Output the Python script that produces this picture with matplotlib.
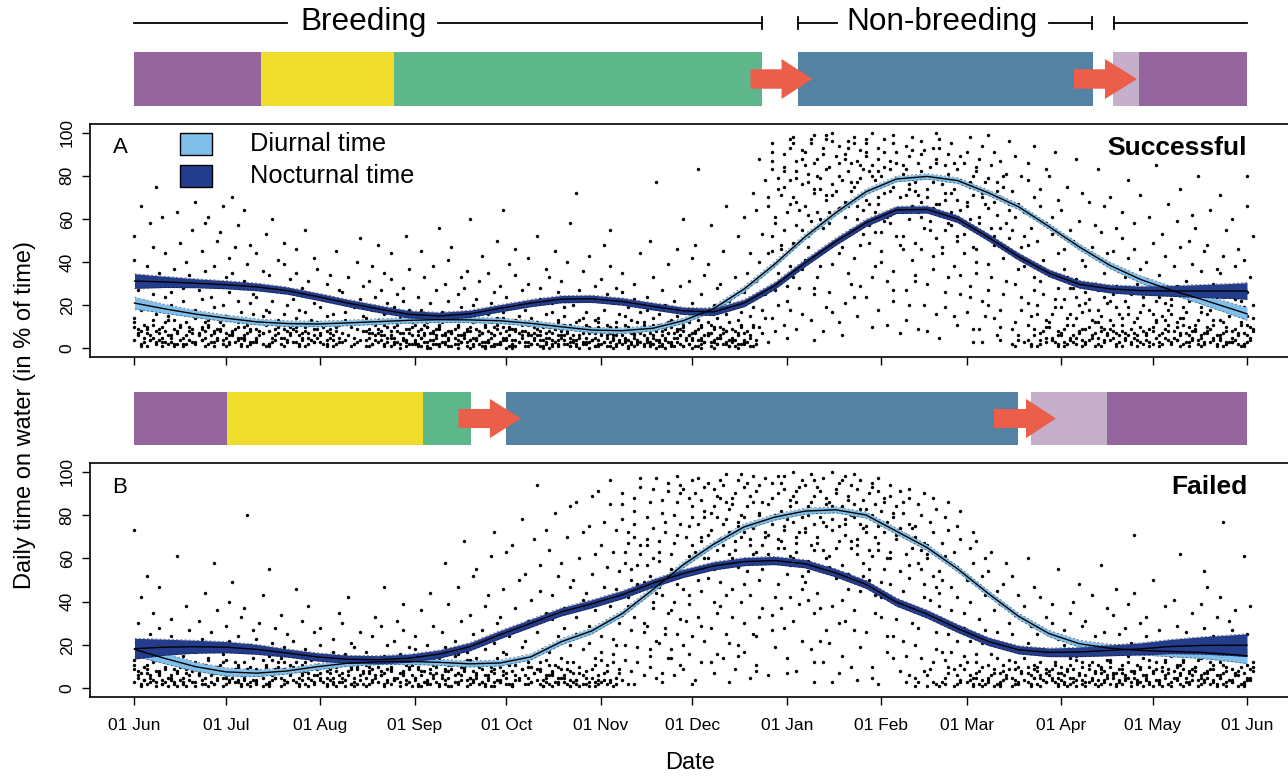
import matplotlib
matplotlib.use("Agg")
import matplotlib.pyplot as plt
from matplotlib.patches import Rectangle, Polygon

plt.rcParams['font.family'] = ['Liberation Sans', 'DejaVu Sans']

# ---------------- data ----------------
tick_days = [0, 30, 61, 92, 122, 153, 183, 214, 245, 273, 304, 334, 365]
tick_labels = ["01 Jun", "01 Jul", "01 Aug", "01 Sep", "01 Oct", "01 Nov", "01 Dec",
               "01 Jan", "01 Feb", "01 Mar", "01 Apr", "01 May", "01 Jun"]

curve_days = [0, 10, 20, 30, 40, 50, 60, 70, 80, 90, 100, 110, 120, 130, 140, 150, 160, 170, 180,
              190, 200, 210, 220, 230, 240, 250, 260, 270, 280, 290, 300, 310, 320, 330, 340, 350,
              360, 365]

A_noct = [31.2, 30.8, 30.2, 29.5, 28.5, 26.8, 24.0, 21.0, 18.3, 15.8, 15.0, 16.0, 18.6, 21.0,
          22.8, 23.0, 21.7, 19.5, 17.4, 16.9, 21.0, 29.0, 39.6, 49.4, 58.2, 64.2, 64.4, 60.0,
          51.6, 42.6, 34.9, 29.7, 27.6, 26.8, 26.6, 26.6, 26.6, 26.6]
A_diur = [21.0, 18.3, 15.9, 14.0, 12.3, 11.5, 11.3, 11.8, 12.4, 13.0, 13.3, 13.2, 12.8, 11.6,
          10.0, 8.5, 8.2, 9.3, 12.8, 18.4, 27.5, 39.0, 51.7, 62.8, 72.6, 78.5, 79.7, 77.8,
          72.2, 65.7, 56.5, 47.0, 38.5, 32.0, 27.0, 22.8, 18.3, 16.0]
A_noct_hw = [3.4, 2.6, 2.1, 1.9, 1.8, 1.7, 1.7, 1.7, 1.7, 1.7, 1.7, 1.7, 1.7, 1.7, 1.7, 1.7,
             1.7, 1.7, 1.7, 1.7, 1.7, 1.7, 1.7, 1.7, 1.7, 1.7, 1.7, 1.7, 1.7, 1.7, 1.7, 1.8,
             1.9, 2.1, 2.5, 3.0, 3.5, 3.9]
A_diur_hw = [2.8, 2.1, 1.7, 1.5, 1.4, 1.3, 1.3, 1.3, 1.3, 1.3, 1.3, 1.3, 1.3, 1.3, 1.3, 1.3,
             1.3, 1.3, 1.3, 1.3, 1.3, 1.3, 1.3, 1.3, 1.3, 1.3, 1.3, 1.3, 1.3, 1.3, 1.3, 1.4,
             1.5, 1.7, 1.9, 2.3, 2.7, 3.0]

B_noct = [18.3, 19.0, 19.2, 19.0, 18.0, 16.3, 14.5, 13.4, 13.2, 13.9, 15.8, 19.2, 24.8, 30.0,
          35.3, 39.0, 43.2, 48.5, 53.0, 56.5, 58.5, 59.0, 57.5, 53.3, 48.0, 39.8, 34.3, 27.7,
          21.7, 17.8, 16.6, 16.8, 17.5, 18.2, 19.3, 19.8, 19.9, 19.9]
B_diur = [18.0, 13.8, 10.0, 7.6, 7.0, 8.0, 10.0, 11.6, 12.3, 12.4, 12.0, 11.3, 11.7, 14.5,
          21.5, 26.5, 34.5, 45.5, 57.0, 66.5, 74.5, 79.0, 81.8, 82.4, 80.0, 72.5, 65.0, 55.2,
          43.9, 33.3, 25.3, 20.6, 18.5, 17.5, 17.0, 16.6, 15.6, 15.0]
B_noct_hw = [4.8, 3.7, 3.0, 2.6, 2.3, 1.9, 1.9, 1.9, 1.9, 1.9, 1.9, 1.9, 1.9, 1.9, 1.9, 1.9,
             1.9, 1.9, 1.9, 1.9, 1.9, 1.9, 1.9, 1.9, 1.9, 1.9, 1.9, 1.9, 1.9, 1.9, 2.0, 2.2,
             2.5, 2.8, 3.3, 4.0, 4.8, 5.3]
B_diur_hw = [3.2, 2.5, 2.1, 1.9, 1.6, 1.4, 1.4, 1.4, 1.4, 1.4, 1.4, 1.4, 1.4, 1.4, 1.4, 1.4,
             1.4, 1.4, 1.4, 1.4, 1.4, 1.4, 1.4, 1.4, 1.4, 1.4, 1.4, 1.4, 1.4, 1.4, 1.5, 1.6,
             1.9, 2.1, 2.4, 2.8, 3.3, 3.6]

# Daily points: key = first day of a 4-day block; values (% on water) recorded in that block.
# day_in_block gives the day (0-3) within the block on which each listed value was recorded.
day_in_block = [2, 0, 3, 1, 1, 3, 0, 2, 3, 1, 2, 0, 0, 2, 1, 3, 2, 3, 0, 1]

A_pts_summer = {
    0: [2, 4, 5, 7, 9, 11, 14, 18, 22, 27, 33, 41, 52, 66],
    4: [1, 3, 4, 6, 8, 10, 13, 16, 21, 25, 30, 38, 47, 58, 75],
    8: [2, 3, 5, 6, 9, 12, 15, 19, 24, 29, 35, 44, 61],
    12: [1, 2, 4, 6, 7, 10, 13, 17, 20, 26, 31, 37, 49, 63],
    16: [2, 3, 5, 8, 9, 12, 16, 22, 28, 34, 40, 55],
    20: [1, 3, 4, 5, 7, 10, 14, 18, 23, 27, 36, 45, 58, 68],
    24: [2, 3, 5, 6, 8, 11, 13, 19, 24, 30, 38, 50, 61],
    28: [1, 2, 4, 7, 9, 12, 15, 20, 26, 33, 42, 54, 66],
    32: [2, 3, 5, 6, 8, 10, 14, 17, 22, 28, 35, 47, 57, 70],
    36: [1, 3, 4, 6, 9, 11, 16, 21, 25, 31, 39, 48, 64],
    40: [2, 3, 5, 7, 8, 12, 15, 18, 24, 29, 36, 44, 53],
    44: [1, 2, 4, 5, 7, 9, 13, 17, 22, 27, 34, 41, 60],
    48: [2, 3, 5, 6, 8, 10, 12, 16, 20, 26, 32, 39, 49],
    52: [1, 3, 4, 6, 7, 9, 14, 18, 23, 28, 35, 46],
    56: [2, 3, 4, 6, 8, 11, 13, 17, 21, 25, 31, 42, 55],
    60: [1, 2, 4, 5, 7, 10, 12, 15, 19, 24, 30, 37],
    64: [2, 3, 5, 6, 8, 9, 11, 16, 22, 27, 34, 45],
    68: [1, 3, 4, 6, 7, 10, 13, 17, 20, 26, 33],
    72: [2, 3, 4, 5, 8, 9, 12, 15, 19, 23, 29, 40, 51],
    76: [1, 2, 4, 6, 7, 9, 11, 14, 18, 24, 31, 38],
    80: [2, 3, 5, 6, 8, 10, 13, 16, 21, 27, 35, 48],
    84: [1, 2, 3, 5, 7, 8, 11, 14, 19, 25, 32, 44],
    88: [2, 3, 4, 6, 7, 9, 12, 15, 18, 22, 28, 37, 52],
}
A_pts_autumn = {
    92: [1, 2, 3, 4, 5, 6, 8, 9, 11, 14, 18, 24, 33, 45],
    96: [0, 2, 3, 4, 5, 7, 8, 10, 12, 16, 21, 27, 38],
    100: [1, 2, 3, 4, 6, 7, 9, 11, 13, 17, 22, 30, 41, 56],
    104: [1, 2, 3, 5, 6, 7, 8, 10, 14, 19, 25, 33, 47],
    108: [0, 1, 3, 4, 5, 6, 8, 9, 12, 15, 20, 28, 36, 60],
    112: [1, 2, 3, 4, 5, 7, 8, 11, 13, 18, 23, 31, 43],
    116: [1, 2, 3, 4, 6, 7, 9, 10, 14, 16, 21, 26, 35, 50],
    120: [0, 2, 3, 4, 5, 6, 8, 10, 12, 17, 24, 29, 39, 64],
    124: [1, 2, 3, 4, 5, 7, 8, 9, 13, 15, 20, 27, 34, 46],
    128: [1, 2, 3, 4, 6, 7, 8, 11, 14, 18, 22, 30, 42],
    132: [0, 1, 2, 4, 5, 6, 8, 10, 12, 16, 23, 28, 37, 52],
    136: [1, 2, 3, 4, 5, 7, 9, 10, 13, 17, 21, 26, 33, 45],
    140: [1, 2, 3, 5, 6, 7, 8, 11, 15, 19, 24, 31, 40, 58],
    144: [0, 2, 3, 4, 5, 6, 8, 9, 12, 14, 20, 27, 36, 72],
    148: [1, 2, 3, 4, 5, 7, 8, 10, 13, 17, 22, 29, 43],
    152: [1, 2, 3, 4, 6, 7, 9, 11, 14, 18, 25, 32, 48],
    156: [0, 1, 3, 4, 5, 6, 8, 10, 12, 16, 21, 28, 38, 55],
    160: [1, 2, 3, 4, 5, 7, 8, 9, 13, 15, 19, 26, 35],
    164: [1, 2, 3, 4, 6, 7, 9, 11, 12, 17, 23, 30, 44],
    168: [0, 2, 3, 4, 5, 6, 8, 10, 14, 18, 24, 33, 50, 77],
    172: [1, 2, 3, 4, 5, 7, 8, 9, 11, 16, 20, 27, 39],
    176: [1, 2, 3, 5, 6, 7, 9, 10, 13, 15, 22, 29, 46],
    180: [0, 1, 2, 4, 5, 6, 8, 11, 12, 17, 21, 31, 42, 60],
}
A_pts_winter = {
    184: [1, 2, 3, 4, 5, 7, 8, 10, 13, 18, 25, 34, 48, 83],
    188: [0, 2, 3, 4, 6, 7, 9, 11, 14, 20, 28, 39, 57],
    192: [1, 2, 3, 5, 6, 8, 9, 12, 16, 22, 30, 45, 66],
    196: [1, 2, 4, 5, 7, 8, 10, 13, 17, 24, 33, 52],
    200: [1, 3, 4, 6, 8, 11, 15, 19, 26, 35, 44, 61, 72],
    204: [2, 4, 7, 10, 14, 18, 25, 31, 40, 53, 64, 78, 88],
    208: [3, 8, 14, 20, 27, 35, 44, 52, 61, 70, 79, 87, 95],
    212: [5, 11, 18, 29, 38, 46, 55, 63, 71, 78, 84, 90, 97],
    216: [9, 16, 28, 37, 49, 57, 64, 70, 76, 82, 87, 92, 98],
    220: [4, 13, 25, 41, 52, 59, 66, 72, 77, 81, 86, 91, 95, 99],
    224: [8, 19, 33, 45, 56, 63, 69, 74, 79, 83, 88, 93, 97],
    228: [12, 26, 39, 50, 58, 65, 71, 76, 80, 84, 89, 94, 100],
    232: [6, 21, 35, 47, 55, 61, 68, 73, 78, 82, 86, 90, 96],
    236: [15, 29, 42, 53, 60, 66, 71, 75, 79, 83, 87, 92, 98],
    240: [10, 24, 38, 49, 57, 63, 69, 74, 78, 82, 85, 89, 95, 100],
    244: [18, 31, 45, 54, 61, 67, 72, 76, 80, 84, 88, 93, 97],
    248: [7, 22, 36, 48, 58, 64, 70, 75, 79, 83, 87, 91, 99],
    252: [13, 27, 41, 52, 60, 66, 71, 76, 81, 85, 89, 94, 98],
    256: [9, 20, 34, 46, 56, 63, 68, 73, 77, 82, 86, 92, 96],
    260: [16, 30, 43, 51, 59, 65, 70, 74, 79, 84, 88, 93, 100],
    264: [5, 19, 33, 47, 55, 62, 67, 72, 76, 81, 85, 90, 97],
    268: [11, 25, 38, 50, 57, 63, 69, 74, 78, 83, 89, 95],
    272: [3, 17, 29, 44, 53, 60, 66, 71, 75, 80, 86, 91, 98],
}
A_pts_spring = {
    276: [9, 22, 35, 46, 54, 61, 67, 72, 77, 82, 88, 94],
    280: [14, 27, 39, 48, 56, 62, 68, 73, 79, 85, 91, 99],
    284: [4, 18, 31, 42, 51, 58, 64, 70, 75, 81, 87, 96],
    288: [2, 6, 12, 24, 37, 47, 55, 61, 67, 73, 80, 89],
    292: [1, 4, 9, 15, 27, 38, 48, 56, 63, 70, 78, 86, 94],
    296: [2, 5, 8, 13, 20, 31, 41, 50, 58, 66, 74, 83],
    300: [1, 3, 6, 10, 16, 23, 34, 44, 53, 61, 69, 80, 91],
    304: [2, 4, 7, 9, 14, 19, 28, 37, 46, 55, 64, 75],
    308: [1, 3, 5, 8, 11, 17, 24, 32, 41, 50, 59, 72, 88],
    312: [2, 4, 6, 9, 12, 18, 23, 30, 38, 47, 57, 68],
    316: [1, 3, 5, 7, 10, 15, 21, 27, 35, 44, 54, 66, 83],
    320: [2, 4, 6, 8, 11, 16, 22, 29, 36, 45, 56, 70, 96],
    324: [1, 3, 5, 7, 9, 14, 19, 25, 33, 42, 51, 63, 78],
    328: [2, 4, 6, 8, 12, 17, 24, 30, 37, 46, 58, 71],
    332: [1, 3, 5, 7, 10, 13, 18, 26, 32, 40, 49, 61, 85],
    336: [2, 4, 6, 9, 11, 15, 21, 27, 34, 43, 53, 67],
    340: [1, 3, 4, 6, 8, 12, 16, 23, 29, 38, 47, 59, 74],
    344: [2, 3, 5, 7, 10, 14, 19, 25, 31, 39, 50, 62],
    348: [1, 2, 4, 6, 9, 11, 17, 22, 28, 36, 45, 56, 80],
    352: [2, 3, 5, 8, 10, 13, 18, 24, 30, 37, 48, 64],
    356: [1, 3, 4, 6, 8, 12, 15, 21, 27, 35, 43, 55, 71],
    360: [2, 3, 5, 7, 9, 11, 16, 22, 29, 38, 46, 60],
    364: [1, 2, 4, 6, 8, 10, 14, 19, 26, 33, 41, 52, 66, 80],
}
# further points from the densest parts of panel A
A_pts_extra = {
    0: [1, 3, 6, 8, 10, 12], 4: [2, 4, 5, 7, 9, 11], 8: [1, 3, 4, 7, 8, 10, 13],
    12: [2, 3, 5, 8, 9, 11], 16: [1, 2, 4, 6, 7, 10], 20: [2, 4, 6, 8, 9, 12],
    24: [1, 3, 4, 7, 9, 10], 28: [2, 3, 5, 6, 8, 11], 32: [1, 4, 5, 7, 9, 12],
    36: [2, 3, 5, 7, 8, 10], 40: [1, 4, 6, 7, 9, 11], 44: [2, 3, 6, 8, 10, 12],
    48: [1, 4, 5, 7, 9, 11], 52: [2, 3, 5, 8, 10], 56: [1, 3, 5, 7, 9, 10],
    60: [2, 3, 6, 8, 9], 64: [1, 4, 5, 7, 10], 76: [1, 2, 4, 5, 7, 8],
    80: [1, 3, 4, 6, 7, 9, 11], 84: [0, 2, 3, 5, 6, 8, 10], 88: [1, 2, 4, 5, 7, 9, 10, 13],
    92: [1, 2, 3, 5, 6, 7, 9, 11], 96: [0, 1, 2, 4, 6, 7, 9, 10],
    100: [1, 2, 3, 5, 6, 8, 10, 12], 104: [0, 2, 3, 4, 6, 7, 9, 11],
    108: [1, 2, 4, 5, 7, 8, 10, 13], 112: [0, 1, 3, 4, 6, 7, 9, 10],
    116: [1, 2, 3, 5, 6, 8, 11, 12], 120: [1, 2, 4, 5, 7, 9, 10, 14],
    124: [0, 1, 3, 4, 6, 8, 9, 11], 128: [1, 2, 3, 5, 6, 7, 10, 12],
    132: [1, 2, 3, 4, 6, 7, 9, 11], 136: [0, 1, 2, 4, 6, 8, 9, 12],
    140: [1, 2, 4, 5, 6, 8, 10, 11], 144: [1, 2, 3, 4, 6, 7, 9, 13],
    148: [0, 1, 3, 4, 5, 7, 9, 11], 152: [1, 2, 3, 5, 6, 8, 10, 12],
    156: [1, 2, 3, 4, 6, 7, 9, 10], 160: [0, 2, 3, 4, 6, 8, 10, 11],
    164: [1, 2, 3, 5, 6, 7, 9, 12], 168: [1, 2, 3, 4, 5, 7, 9, 11],
    172: [0, 1, 3, 4, 6, 7, 10, 12], 176: [1, 2, 3, 5, 6, 8, 9, 11],
    180: [1, 2, 4, 5, 6, 7, 10, 13], 184: [0, 1, 3, 4, 6, 8, 9, 11],
    188: [1, 2, 3, 5, 6, 7, 10, 12], 192: [1, 2, 4, 5, 7, 8, 10],
    196: [0, 2, 3, 4, 6, 9, 11], 200: [1, 2, 3, 5, 7, 10],
    208: [45, 58, 66, 74, 83, 91], 212: [22, 48, 67, 75, 82, 93], 216: [33, 55, 68, 79, 88, 95],
    220: [28, 47, 62, 74, 85, 97], 224: [38, 60, 71, 80, 90, 99], 228: [17, 44, 63, 73, 86, 96],
    232: [30, 52, 66, 77, 88, 93], 236: [24, 48, 64, 77, 85, 95], 240: [33, 54, 67, 80, 91, 97],
    244: [11, 40, 59, 70, 82, 91], 248: [27, 52, 62, 73, 86, 95], 252: [20, 46, 63, 74, 83, 92],
    256: [31, 49, 61, 71, 80, 90], 260: [8, 37, 55, 67, 77, 86], 264: [26, 44, 58, 69, 79, 93],
    268: [15, 34, 52, 64, 72, 86], 272: [9, 24, 47, 57, 68, 77], 276: [3, 15, 40, 58, 70, 84],
    280: [6, 20, 33, 52, 65, 77], 284: [10, 25, 46, 56, 67, 80], 288: [1, 4, 9, 18, 30, 43],
    292: [2, 3, 6, 11, 21, 33, 52], 296: [1, 3, 4, 7, 10, 16, 25],
    300: [2, 4, 5, 8, 12, 19, 28], 304: [1, 3, 5, 6, 11, 16, 23, 33],
    308: [2, 4, 6, 7, 9, 14, 20, 28], 312: [1, 3, 5, 7, 10, 13, 21, 26],
    316: [2, 4, 6, 8, 9, 12, 18, 24], 320: [1, 3, 5, 7, 9, 13, 19, 25],
    324: [2, 4, 6, 8, 11, 16, 22, 28], 328: [1, 3, 5, 7, 10, 14, 20, 27],
    332: [2, 4, 6, 8, 9, 12, 16, 22], 336: [1, 3, 5, 7, 8, 13, 18, 24],
    340: [2, 4, 5, 7, 10, 14, 20, 26], 344: [1, 3, 4, 6, 8, 11, 17, 22],
    348: [2, 3, 5, 7, 8, 13, 19, 25], 352: [1, 4, 6, 7, 9, 11, 16, 21],
    356: [2, 3, 5, 7, 10, 13, 18, 24], 360: [1, 3, 4, 6, 8, 12, 17, 23],
    364: [2, 3, 5, 7, 9, 11, 15, 20],
}

B_pts_summer = {
    0: [1, 3, 4, 6, 8, 10, 13, 17, 22, 30, 42, 73],
    4: [2, 3, 5, 6, 8, 11, 14, 19, 25, 35, 52],
    8: [1, 2, 4, 5, 7, 9, 12, 16, 21, 28, 47],
    12: [2, 3, 4, 6, 7, 10, 13, 18, 24, 32, 61],
    16: [1, 3, 5, 6, 8, 9, 11, 15, 20, 27, 38],
    20: [2, 3, 4, 5, 7, 10, 12, 17, 23, 31, 44],
    24: [1, 2, 4, 6, 8, 9, 14, 19, 26, 36, 58],
    28: [2, 3, 5, 6, 7, 11, 13, 16, 22, 29, 40],
    32: [1, 3, 4, 5, 8, 10, 12, 18, 24, 33, 49],
    36: [2, 3, 4, 6, 7, 9, 14, 20, 27, 37, 80],
    40: [1, 2, 4, 5, 8, 10, 13, 17, 23, 30, 43],
    44: [2, 3, 5, 6, 7, 9, 12, 15, 21, 28, 55],
    48: [1, 3, 4, 6, 8, 11, 14, 19, 25, 34],
    52: [2, 3, 4, 5, 7, 10, 12, 16, 22, 31, 46],
    56: [1, 2, 4, 6, 8, 9, 13, 18, 26, 38],
    60: [2, 3, 5, 6, 7, 10, 11, 15, 20, 28],
    64: [1, 3, 4, 5, 8, 9, 12, 17, 23, 35],
    68: [2, 3, 4, 6, 7, 10, 13, 16, 21, 30, 42],
    72: [1, 2, 4, 5, 8, 9, 11, 14, 19, 26],
    76: [2, 3, 5, 6, 7, 10, 12, 17, 24, 33],
    80: [1, 3, 4, 6, 8, 9, 13, 15, 20, 29, 47],
    84: [2, 3, 4, 5, 7, 10, 12, 16, 22, 31],
    88: [1, 2, 4, 6, 8, 9, 11, 14, 19, 27, 39],
}
B_pts_autumn = {
    92: [1, 2, 3, 5, 6, 8, 10, 13, 18, 24, 36],
    96: [2, 3, 4, 5, 7, 9, 11, 15, 20, 29, 44],
    100: [1, 2, 4, 5, 6, 8, 12, 14, 19, 26, 39, 58],
    104: [1, 3, 4, 6, 7, 9, 11, 16, 22, 31, 47],
    108: [2, 3, 4, 5, 8, 10, 13, 17, 25, 34, 52, 68],
    112: [1, 2, 3, 5, 6, 9, 12, 18, 27, 38, 55],
    116: [1, 3, 4, 6, 7, 10, 14, 21, 30, 43, 61, 72],
    120: [2, 3, 4, 5, 8, 11, 16, 24, 33, 46, 63],
    124: [1, 2, 4, 6, 9, 13, 19, 28, 37, 50, 66, 78],
    128: [2, 3, 5, 7, 10, 15, 22, 31, 41, 53, 69],
    132: [1, 2, 3, 4, 6, 9, 12, 18, 26, 35, 45, 57, 73, 94],
    136: [1, 2, 3, 5, 6, 8, 11, 17, 24, 32, 43, 52, 64, 81],
    140: [1, 2, 4, 5, 6, 9, 14, 20, 28, 37, 47, 58, 70, 84],
    144: [1, 2, 3, 4, 7, 12, 18, 25, 33, 41, 50, 60, 72, 86],
    148: [1, 2, 3, 5, 8, 14, 21, 29, 36, 44, 53, 62, 75, 89],
    152: [2, 3, 4, 6, 11, 17, 24, 31, 39, 47, 56, 66, 77, 91],
    156: [1, 2, 4, 9, 16, 23, 30, 38, 46, 54, 63, 73, 85, 96],
    160: [2, 4, 8, 13, 20, 27, 34, 42, 50, 58, 67, 78, 90],
    164: [2, 6, 12, 19, 26, 33, 41, 49, 57, 66, 76, 88, 97],
    168: [5, 10, 15, 22, 29, 37, 44, 52, 60, 69, 79, 92],
    172: [3, 7, 14, 21, 28, 35, 43, 51, 59, 68, 77, 87, 95],
    176: [6, 11, 18, 25, 32, 40, 48, 55, 62, 71, 80, 90, 98],
    180: [2, 9, 16, 24, 31, 39, 46, 53, 61, 70, 79, 88, 96],
}
B_pts_winter = {
    184: [4, 12, 22, 33, 45, 55, 63, 70, 76, 82, 87, 93],
    188: [7, 16, 28, 40, 51, 60, 67, 73, 79, 84, 89, 95],
    192: [3, 14, 25, 38, 49, 58, 66, 72, 78, 83, 88, 94, 99],
    196: [9, 20, 33, 46, 56, 64, 70, 75, 80, 85, 90, 96],
    200: [5, 17, 30, 43, 54, 62, 69, 74, 79, 84, 89, 93, 98],
    204: [11, 24, 37, 50, 59, 66, 72, 77, 81, 86, 91, 97],
    208: [6, 19, 34, 48, 58, 65, 71, 76, 80, 85, 90, 95],
    212: [14, 28, 42, 53, 61, 68, 73, 78, 82, 87, 92, 98],
    216: [8, 22, 39, 52, 60, 67, 72, 77, 81, 86, 91, 96, 100],
    220: [3, 18, 35, 49, 59, 66, 72, 76, 80, 84, 89, 94, 99],
    224: [12, 27, 44, 56, 64, 70, 75, 79, 83, 88, 93, 97],
    228: [7, 21, 38, 51, 61, 68, 73, 78, 82, 86, 90, 95, 100],
    232: [15, 31, 46, 57, 65, 71, 76, 80, 84, 89, 94, 98],
    236: [4, 19, 36, 52, 62, 69, 74, 79, 83, 87, 92, 96],
    240: [10, 26, 43, 55, 64, 70, 75, 80, 85, 90, 95],
    244: [2, 17, 33, 49, 60, 67, 72, 77, 82, 86, 91, 97],
    248: [8, 24, 40, 54, 63, 69, 74, 79, 84, 89, 94],
    252: [3, 15, 30, 45, 57, 65, 71, 76, 81, 86, 92],
    256: [3, 8, 20, 35, 48, 58, 64, 70, 75, 80, 85, 90],
    260: [2, 6, 12, 26, 41, 52, 60, 66, 72, 77, 83, 88],
    264: [1, 5, 10, 17, 31, 44, 54, 61, 67, 73, 79, 86],
    268: [2, 4, 9, 22, 36, 47, 56, 63, 69, 75, 82],
    272: [1, 3, 6, 15, 28, 40, 50, 58, 65, 72],
}
B_pts_spring = {
    276: [2, 4, 7, 12, 21, 32, 43, 52, 60, 68],
    280: [1, 3, 5, 9, 16, 26, 36, 45, 54, 63],
    284: [2, 3, 6, 8, 13, 20, 30, 39, 48, 58],
    288: [1, 2, 4, 7, 10, 17, 25, 34, 43, 52],
    292: [2, 3, 5, 6, 9, 14, 21, 29, 38, 47, 60],
    296: [1, 3, 4, 7, 8, 12, 18, 25, 33, 42],
    300: [2, 3, 5, 6, 9, 11, 16, 23, 30, 39, 55],
    304: [1, 2, 4, 6, 8, 10, 14, 20, 27, 35],
    308: [2, 3, 4, 7, 9, 12, 15, 22, 29, 40, 48],
    312: [1, 3, 5, 6, 8, 11, 17, 24, 31, 43],
    316: [2, 3, 4, 6, 9, 10, 13, 19, 26, 37, 57],
    320: [1, 2, 4, 5, 7, 9, 12, 18, 25, 34, 46],
    324: [2, 3, 5, 6, 8, 11, 15, 21, 28, 39],
    328: [1, 3, 4, 6, 7, 10, 14, 20, 30, 44, 71],
    332: [2, 3, 4, 5, 8, 9, 13, 17, 24, 33, 50],
    336: [1, 2, 4, 6, 7, 10, 12, 19, 27, 38],
    340: [2, 3, 5, 6, 8, 11, 15, 22, 29, 41, 62],
    344: [1, 3, 4, 5, 7, 9, 13, 18, 26, 35],
    348: [2, 3, 4, 6, 8, 10, 14, 21, 28, 39, 54],
    352: [1, 2, 4, 5, 7, 9, 12, 17, 24, 33, 47],
    356: [2, 3, 5, 6, 8, 11, 16, 23, 31, 42, 77],
    360: [1, 3, 4, 6, 7, 10, 13, 19, 27, 36],
    364: [2, 3, 4, 5, 8, 9, 12, 18, 25, 38, 61],
}
# further points from the densest parts of panel B
B_pts_extra = {
    0: [2, 4, 5, 7, 9, 11], 4: [1, 3, 4, 7, 9, 12], 8: [2, 3, 6, 8, 10],
    12: [1, 4, 5, 8, 9, 11], 16: [2, 3, 4, 7, 10, 12], 20: [1, 2, 6, 8, 9, 11],
    24: [2, 3, 5, 7, 10, 13], 28: [1, 4, 5, 8, 9, 12], 32: [2, 3, 6, 7, 9, 11],
    36: [1, 4, 5, 8, 10, 12], 40: [2, 3, 6, 7, 9, 11], 44: [1, 4, 5, 8, 10, 13],
    48: [2, 3, 5, 7, 9, 12], 52: [1, 4, 6, 8, 9, 11], 56: [2, 3, 5, 7, 10, 12],
    60: [1, 4, 5, 8, 9, 13], 64: [2, 3, 6, 7, 10, 11], 68: [1, 2, 5, 8, 9, 12],
    72: [2, 3, 6, 7, 10, 13], 76: [1, 4, 5, 8, 9, 11], 80: [2, 3, 6, 7, 10, 12],
    84: [1, 4, 5, 8, 9, 13], 88: [2, 3, 6, 7, 10, 11], 92: [1, 4, 5, 8, 9, 12],
    96: [2, 3, 6, 7, 10, 13], 100: [1, 2, 5, 8, 9, 11], 104: [2, 3, 6, 7, 10, 12, 15],
    108: [1, 4, 5, 8, 9, 13], 112: [2, 3, 6, 7, 10, 11, 14], 116: [1, 4, 5, 8, 9, 12],
    120: [2, 3, 6, 7, 10, 13, 17], 124: [1, 4, 5, 8, 9, 11], 128: [2, 3, 6, 7, 10, 12, 16],
    132: [1, 4, 5, 8, 9, 13], 136: [2, 3, 6, 7, 10, 11], 140: [1, 3, 5, 8, 9, 12],
    144: [2, 4, 6, 7, 10], 148: [1, 3, 5, 9, 11], 152: [2, 4, 7, 8, 13],
    156: [3, 5, 7, 12, 20], 160: [38, 55, 63, 72, 85], 164: [30, 48, 62, 70, 82, 93],
    168: [18, 40, 57, 66, 74, 86, 97], 172: [25, 47, 63, 72, 81, 91],
    176: [14, 36, 52, 67, 76, 86, 94], 180: [20, 43, 58, 66, 75, 84, 92],
    184: [29, 50, 60, 68, 79, 90, 97], 188: [12, 35, 55, 64, 71, 81, 92],
    192: [21, 43, 62, 69, 76, 86, 96], 196: [15, 40, 60, 68, 77, 88, 99],
    200: [25, 48, 58, 66, 72, 86, 95], 204: [8, 33, 55, 63, 70, 80, 94],
    208: [27, 42, 62, 69, 78, 88, 98], 212: [7, 37, 57, 65, 75, 84, 95],
    216: [31, 46, 63, 70, 79, 89, 93], 220: [12, 41, 54, 64, 74, 86, 96],
    224: [22, 37, 60, 67, 77, 85, 91], 228: [3, 30, 56, 65, 75, 84, 92],
    232: [10, 41, 53, 68, 78, 87, 96], 236: [27, 45, 58, 66, 76, 85, 99],
    240: [5, 35, 50, 61, 72, 83, 93], 244: [24, 42, 55, 64, 75, 88],
    248: [14, 32, 48, 60, 71, 81, 91], 252: [6, 22, 38, 51, 62, 74, 88],
    256: [1, 5, 14, 28, 42, 55, 67], 260: [1, 3, 9, 18, 33, 47, 62],
    264: [2, 3, 7, 13, 25, 38, 50], 268: [1, 3, 6, 11, 17, 29, 42],
    272: [2, 4, 5, 9, 12, 22, 35], 276: [1, 2, 5, 8, 10, 16, 27],
    280: [2, 4, 6, 7, 11, 14, 22], 284: [1, 4, 5, 7, 9, 11], 288: [2, 3, 5, 8, 9, 12],
    292: [1, 4, 5, 7, 10, 11], 296: [2, 3, 5, 6, 9, 10], 300: [1, 4, 5, 7, 8, 12],
    304: [2, 3, 5, 7, 9, 11], 308: [1, 4, 5, 6, 10, 13], 312: [2, 3, 4, 7, 9, 12],
    316: [1, 4, 5, 7, 8, 11], 320: [2, 3, 6, 7, 10, 13], 324: [1, 4, 5, 7, 9, 12],
    328: [2, 3, 5, 8, 9, 11], 332: [1, 4, 6, 7, 10, 12], 336: [2, 3, 5, 8, 9, 13],
    340: [1, 4, 5, 7, 10, 11], 344: [2, 3, 6, 8, 9, 12], 348: [1, 4, 5, 7, 10, 13],
    352: [2, 3, 6, 8, 9, 11], 356: [1, 4, 5, 7, 10, 12], 360: [2, 3, 6, 8, 9, 13],
    364: [1, 4, 5, 7, 10, 11],
}

# Phase bars (start day, end day, phase)
phases_A = [(0, 41.5, "pre"), (41.5, 85, "incub"), (85, 206, "chick"),
            (217.7, 314.5, "winter"), (321, 329.7, "return"), (329.7, 365, "pre")]
arrows_A = [(202.1, 212.3, 222.4), (308.2, 318.4, 328.9)]
phases_B = [(0, 30.3, "pre"), (30.3, 94.5, "incub"), (94.5, 110.4, "chick"),
            (121.8, 290, "winter"), (294.2, 319, "return"), (319, 365, "pre")]
arrows_B = [(106.3, 116.6, 126.8), (282, 292.5, 302.3)]

# Season brackets (start, end, left tick, right tick)
brackets = [(0, 205.9, False, True), (217.7, 314.1, True, True), (321.4, 365, True, False)]

# ---------------- style ----------------
phase_colors = {"pre": "#95669D", "incub": "#EFDC2D", "chick": "#5EB78B",
                "winter": "#5382A2", "return": "#C6AFCA"}
arrow_color = "#EA5E4A"
light = "#80BFEA"
dark = "#243C8C"

W, H = 1288, 777
XLIM = (-14.6, 379.6)
fig = plt.figure(figsize=(W / 100, H / 100), dpi=100)


def px_axes(left, top, right, bottom):
    return fig.add_axes([left / W, 1 - bottom / H, (right - left) / W, (bottom - top) / H])


deco = fig.add_axes([90 / W, 0, 1201.5 / W, 1])
deco.set_xlim(*XLIM)
deco.set_ylim(H, 0)
deco.axis('off')
deco.patch.set_visible(False)


def draw_bar(phases, arrows, top, height):
    for s, e, ph in phases:
        deco.add_patch(Rectangle((s, top), e - s, height, facecolor=phase_colors[ph],
                                 edgecolor='none', zorder=1))
    cy = top + height / 2
    sh, hh = height * 0.18, height * 0.37
    for s, b, t in arrows:
        deco.add_patch(Polygon([(s, cy - sh), (b, cy - sh), (b, cy - hh), (t, cy),
                                (b, cy + hh), (b, cy + sh), (s, cy + sh)],
                               closed=True, facecolor=arrow_color, edgecolor='none', zorder=2))


draw_bar(phases_A, arrows_A, 52, 54)
draw_bar(phases_B, arrows_B, 392, 53)

# brackets
by = 23
gaps = {0: (50.0, 99.6), 1: (230.5, 300.0)}
for i, (s, e, lt, rt) in enumerate(brackets):
    if i in gaps:
        g0, g1 = gaps[i]
        deco.plot([s, g0], [by, by], color='black', lw=1.3)
        deco.plot([g1, e], [by, by], color='black', lw=1.3)
    else:
        deco.plot([s, e], [by, by], color='black', lw=1.3)
    if lt:
        deco.plot([s, s], [by - 6, by + 6], color='black', lw=1.3)
    if rt:
        deco.plot([e, e], [by - 6, by + 6], color='black', lw=1.3)
deco.text(75.2, by - 1, "Breeding", fontsize=22.7, ha='center', va='center')
deco.text(264.9, by - 1, "Non-breeding", fontsize=22.7, ha='center', va='center')

axA = px_axes(90, 124, 1291.5, 357)
axB = px_axes(90, 463, 1291.5, 697)


def collect(groups):
    xs, ys = [], []
    n = len(day_in_block)
    for phase_shift, grp in groups:
        for start, vals in grp.items():
            for k, v in enumerate(vals):
                xs.append(start + day_in_block[(k + start // 4 + phase_shift) % n])
                ys.append(v)
    return xs, ys


def panel(ax, groups, noct, diur, noct_hw, diur_hw):
    xs, ys = collect(groups)
    ax.scatter(xs, ys, s=6, c='black', marker='o', linewidths=0, zorder=1)
    for vals, hw, col, z in [(diur, diur_hw, light, 2), (noct, noct_hw, dark, 3)]:
        lo = [v - h for v, h in zip(vals, hw)]
        hi = [v + h for v, h in zip(vals, hw)]
        ax.fill_between(curve_days, lo, hi, color=col, lw=0, zorder=z)
        ax.plot(curve_days, lo, color='black', lw=0.5, ls=(0, (3, 3)), alpha=0.6, zorder=z + 0.1)
        ax.plot(curve_days, hi, color='black', lw=0.5, ls=(0, (3, 3)), alpha=0.6, zorder=z + 0.1)
    ax.plot(curve_days, diur, color='black', lw=1.0, zorder=5)
    ax.plot(curve_days, noct, color='black', lw=1.0, zorder=5)
    ax.set_xlim(*XLIM)
    ax.set_ylim(-4, 104)
    ax.set_yticks([0, 20, 40, 60, 80, 100])
    ax.set_xticks(tick_days)
    ax.tick_params(direction='out', length=6, width=1, labelsize=12.5, pad=9)
    ax.tick_params(axis='y', labelrotation=90, pad=5)
    for lab in ax.get_yticklabels():
        lab.set_va('center')
    for sp in ax.spines.values():
        sp.set_linewidth(1.2)


panel(axA, [(0, A_pts_summer), (0, A_pts_autumn), (0, A_pts_winter), (0, A_pts_spring),
            (7, A_pts_extra)], A_noct, A_diur, A_noct_hw, A_diur_hw)
panel(axB, [(0, B_pts_summer), (0, B_pts_autumn), (0, B_pts_winter), (0, B_pts_spring),
            (7, B_pts_extra)], B_noct, B_diur, B_noct_hw, B_diur_hw)
axA.set_xticklabels([])
axB.set_xticklabels(tick_labels)

axA.text(0.025, 0.897, "A", transform=axA.transAxes, fontsize=16, ha='center', va='center')
axB.text(0.025, 0.897, "B", transform=axB.transAxes, fontsize=16, ha='center', va='center')
axA.text(0.963, 0.897, "Successful", transform=axA.transAxes, fontsize=19,
         fontweight='bold', ha='right', va='center', zorder=6)
axB.text(0.963, 0.897, "Failed", transform=axB.transAxes, fontsize=19,
         fontweight='bold', ha='right', va='center', zorder=6)

# legend
for (y0, y1), col, lab, yc in [((0.867, 0.961), light, "Diurnal time", 0.914),
                               ((0.730, 0.824), dark, "Nocturnal time", 0.777)]:
    axA.add_patch(Rectangle((0.0749, y0), 0.0266, y1 - y0, transform=axA.transAxes,
                            facecolor=col, edgecolor='black', lw=1.0, zorder=6))
    axA.text(0.133, yc, lab, transform=axA.transAxes, fontsize=18.3, ha='left',
             va='center', zorder=6)

fig.text(25 / W, 1 - 415 / H, "Daily time on water (in % of time)", rotation=90,
         fontsize=17, ha='center', va='center')
fig.text(690 / W, 1 - 763 / H, "Date", fontsize=17, ha='center', va='center')

fig.savefig("out.png", dpi=100)
